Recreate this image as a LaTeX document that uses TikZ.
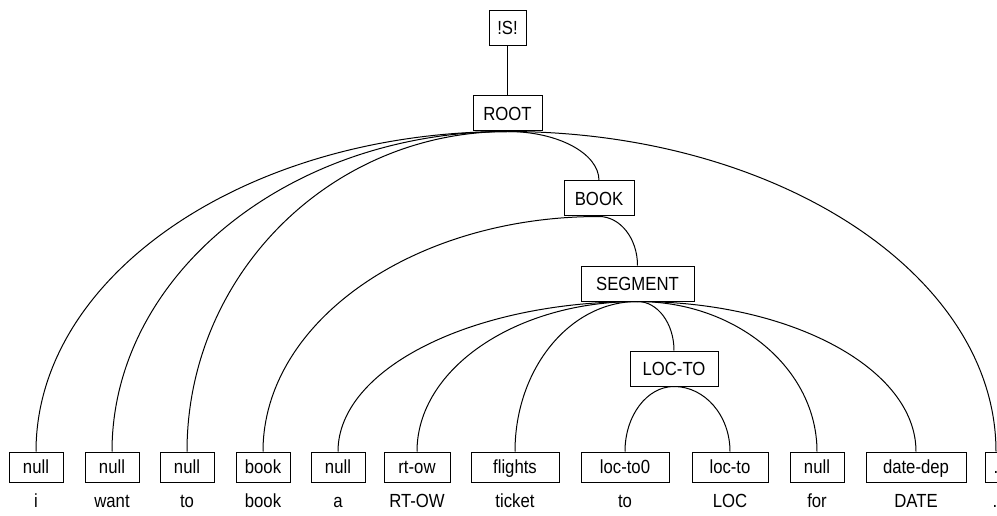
\documentclass[tikz,border=0pt]{standalone}
\usepackage{fontspec}
\setmainfont{Liberation Sans}[FakeStretch=0.88]
\usetikzlibrary{calc}
\pgfdeclarelayer{edges}
\pgfsetlayers{edges,main}
\tikzset{
  tag/.style={draw, fill=white, line width=1pt, inner sep=0pt,
    minimum height=35, text height=13.6pt, text depth=0pt,
    font=\fontsize{19}{22}\selectfont},
  leaf/.style={tag, minimum height=30, text height=13pt},
  word/.style={inner sep=0pt, anchor=base, font=\fontsize{19}{22}\selectfont},
  % quarter-ellipse connector: leaves the parent horizontally, meets the child vertically
  arcedge/.style={line width=1pt, to path={
    .. controls ($(\tikztostart)!0.552!(\tikztostart -| \tikztotarget)$)
       and ($(\tikztotarget)!0.552!(\tikztotarget |- \tikztostart)$) .. (\tikztotarget)}}
}
\begin{document}
\begin{tikzpicture}[x=1pt, y=-1pt]
\useasboundingbox (0,0) rectangle (997,516);
\clip (0,0) rectangle (997,516);

% inner nodes
\node[tag, minimum width=37] (S) at (507.5,28) {!S!};
\node[tag, minimum width=69] (ROOT) at (507.5,113.5) {ROOT};
\node[tag, minimum width=70] (BOOK) at (599,198.5) {BOOK};
\node[tag, minimum width=113] (SEG) at (637.5,283.5) {SEGMENT};
\node[tag, minimum width=88] (LOCTO) at (674,368.5) {LOC-TO};

% leaf tags
\node[leaf, minimum width=54] (l1) at (36,467) {null};
\node[leaf, minimum width=54] (l2) at (112,467) {null};
\node[leaf, minimum width=54] (l3) at (187,467) {null};
\node[leaf, minimum width=54] (l4) at (263,467) {book};
\node[leaf, minimum width=54] (l5) at (338,467) {null};
\node[leaf, minimum width=66] (l6) at (417,467) {rt-ow};
\node[leaf, minimum width=88] (l7) at (515,467) {flights};
\node[leaf, minimum width=88] (l8) at (625,467) {loc-to0};
\node[leaf, minimum width=76] (l9) at (730,467) {loc-to};
\node[leaf, minimum width=54] (l10) at (817,467) {null};
\node[leaf, minimum width=100] (l11) at (916,467) {date-dep};
\node[leaf, minimum width=22] (l12) at (996,467) {.};

% words of the sentence
\node[word] (w1) at (36,507) {i};
\node[word] (w2) at (112,507) {want};
\node[word] (w3) at (187,507) {to};
\node[word] (w4) at (263,507) {book};
\node[word] (w5) at (338,507) {a};
\node[word] (w6) at (417,507) {RT-OW};
\node[word] (w7) at (515,507) {ticket};
\node[word] (w8) at (625,507) {to};
\node[word] (w9) at (730,507) {LOC};
\node[word] (w10) at (817,507) {for};
\node[word] (w11) at (916,507) {DATE};
\node[word] (w12) at (995,507) {.};

\begin{pgfonlayer}{edges}
  \draw[line width=1pt] (S.south) -- (ROOT.north);
  \foreach \c in {l1,l2,l3,BOOK,l12}
    \draw[arcedge] (ROOT.south) to (\c.north);
  \foreach \c in {l4,SEG}
    \draw[arcedge] (BOOK.south) to (\c.north);
  \foreach \c in {l5,l6,l7,LOCTO,l10,l11}
    \draw[arcedge] (SEG.south) to (\c.north);
  \foreach \c in {l8,l9}
    \draw[arcedge] (LOCTO.south) to (\c.north);
\end{pgfonlayer}
\end{tikzpicture}
\end{document}
